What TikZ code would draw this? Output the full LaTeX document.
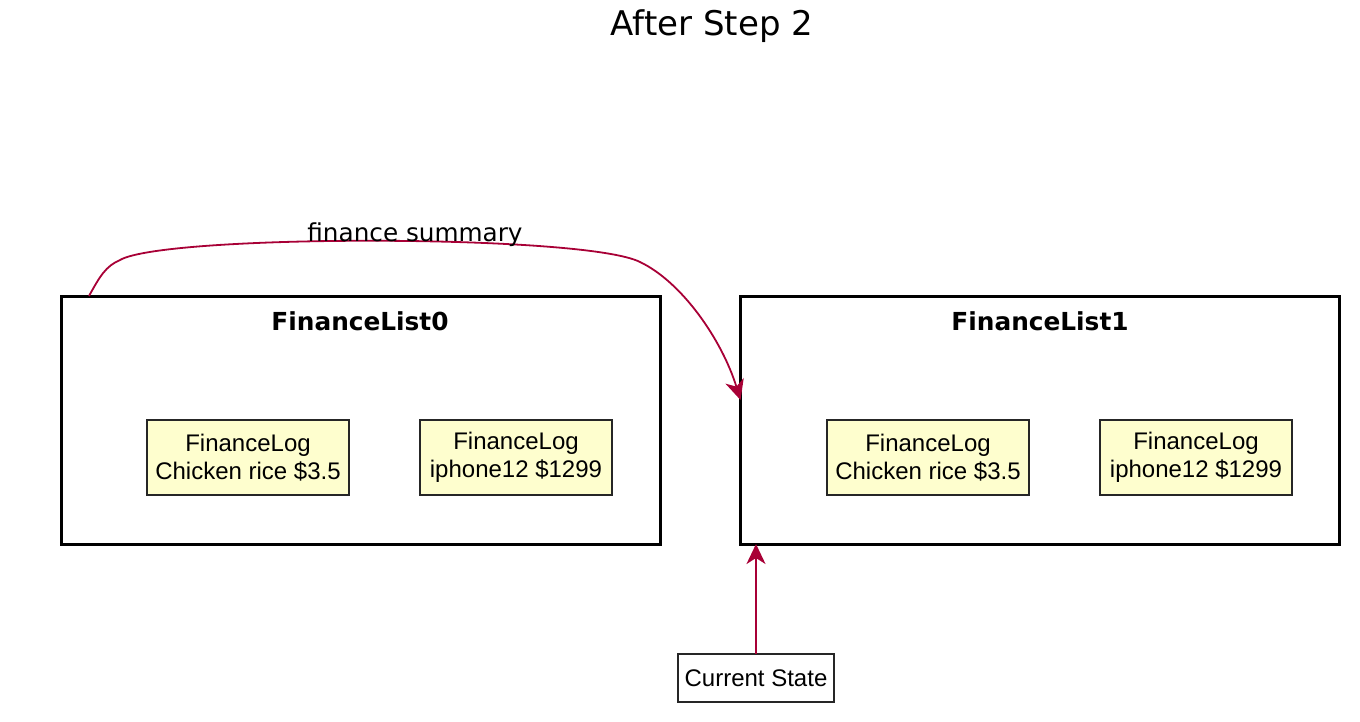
\documentclass[tikz,border=0pt]{standalone}
\usepackage{fontspec}
\setmainfont{Liberation Sans}
\newfontfamily\lucida{DejaVu Sans}
\usetikzlibrary{arrows.meta}
\definecolor{plred}{HTML}{A80036}
\definecolor{plfill}{HTML}{FEFECE}
\begin{document}
\begin{tikzpicture}[x=1pt,y=-1pt,
  container/.style={draw=black, line width=3pt, minimum width=599pt, minimum height=248pt, inner sep=0pt, outer sep=0pt},
  ctitle/.style={font=\lucida\bfseries\fontsize{24.8}{28}\selectfont, anchor=base, inner sep=0pt},
  logbox/.style={draw=black!85, line width=1.5pt, fill=plfill, font=\fontsize{24}{28}\selectfont, align=center, inner sep=0pt, minimum height=75pt, outer sep=0pt},
  plainbox/.style={draw=black!85, line width=1.5pt, fill=white, font=\fontsize{24}{28}\selectfont, inner sep=0pt, minimum height=48pt, minimum width=156pt, outer sep=0pt},
  conn/.style={draw=plred, line width=1.8pt, -{Stealth[length=20pt,width=19pt,inset=6pt]}},
]
\useasboundingbox (0,0) rectangle (1360,721);
\node[font=\lucida\fontsize{34}{40}\selectfont, anchor=base, inner sep=0pt] (title) at (712,35) {After Step 2};

\node[container] (fl0) at (360.5,420) {};
\node[container] (fl1) at (1040,420) {};
\node[ctitle] (fl0t) at (360,330) {FinanceList0};
\node[ctitle] (fl1t) at (1040,330) {FinanceList1};

\node[logbox, minimum width=202pt] (l0a) at (248,457.5) {FinanceLog\\Chicken rice \$3.5};
\node[logbox, minimum width=192pt] (l0b) at (516,457.5) {FinanceLog\\iphone12 \$1299};
\node[logbox, minimum width=202pt] (l1a) at (928,457.5) {FinanceLog\\Chicken rice \$3.5};
\node[logbox, minimum width=192pt] (l1b) at (1196,457.5) {FinanceLog\\iphone12 \$1299};

\node[plainbox] (cs) at (756,678) {Current State};

\coordinate (s0) at ([xshift=28pt]fl0.north west);
\coordinate (e1) at ([yshift=-104pt]fl1.north west);
\draw[conn] (s0) .. controls (100,276) and (106,266) .. (120,260)
  .. controls (165,234) and (585,234) .. (640,262)
  .. controls (682,282) and (722,340) .. (e1);
\node[font=\lucida\fontsize{24.7}{28}\selectfont, anchor=base, inner sep=0pt] (lbl) at (415,241) {finance summary};

\draw[conn] (cs.north) -- (cs.north |- fl1.south);
\end{tikzpicture}
\end{document}
